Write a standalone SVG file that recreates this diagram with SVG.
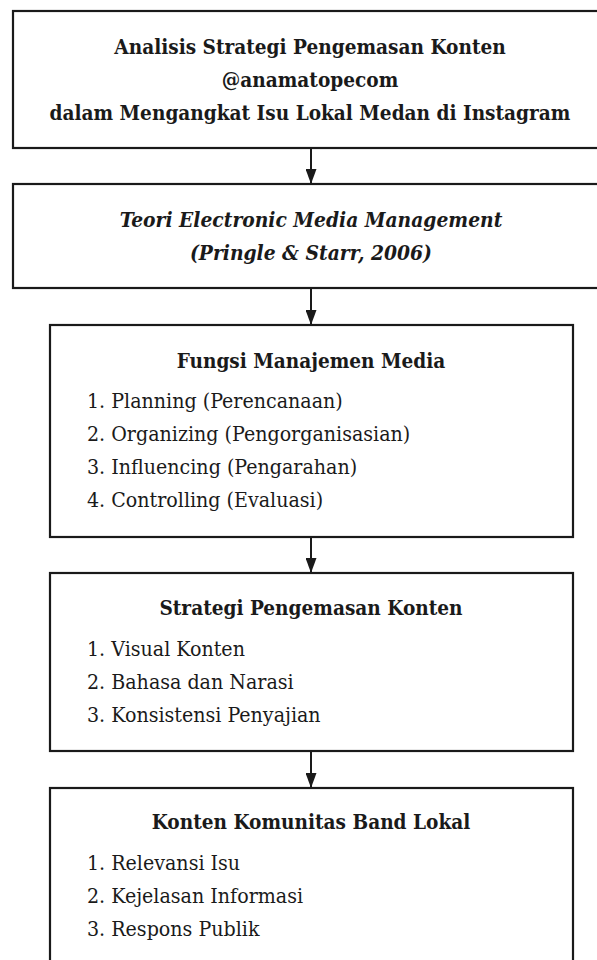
<svg xmlns="http://www.w3.org/2000/svg" width="597" height="960" viewBox="0 0 597 960">
<defs>
<style>
.box{fill:#fff;stroke:#1a1a1a;stroke-width:2.2}
text{font-family:"DejaVu Serif","Liberation Serif",serif;font-stretch:condensed;fill:#1a1a1a;font-size:21.2px}
.t{font-weight:bold;text-anchor:middle;font-size:20.6px}
.i{font-style:italic;font-weight:bold;text-anchor:middle;font-size:20.8px}
.li{font-weight:normal}
.conn{stroke:#1a1a1a;stroke-width:2;fill:none}
</style>
<marker id="ah" viewBox="0 0 15 11" refX="15" refY="5.5" markerWidth="15" markerHeight="11" markerUnits="userSpaceOnUse" orient="auto">
<path d="M0,0 L15,5.5 L0,11 Z" fill="#1a1a1a"/>
</marker>
</defs>
<rect width="597" height="960" fill="#fff"/>
<g id="connectors">
<line class="conn" x1="311" y1="148" x2="311" y2="184" marker-end="url(#ah)"/>
<line class="conn" x1="311" y1="288" x2="311" y2="325" marker-end="url(#ah)"/>
<line class="conn" x1="311" y1="537" x2="311" y2="573" marker-end="url(#ah)"/>
<line class="conn" x1="311" y1="751" x2="311" y2="788" marker-end="url(#ah)"/>
</g>
<g id="node-judul">
<rect class="box" x="13" y="11" width="598" height="137"/>
<text class="t" x="310" y="54">Analisis Strategi Pengemasan Konten</text>
<text class="t" x="310" y="87">@anamatopecom</text>
<text class="t" x="310" y="120">dalam Mengangkat Isu Lokal Medan di Instagram</text>
</g>
<g id="node-teori">
<rect class="box" x="13" y="184" width="598" height="104"/>
<text class="i" x="311" y="227">Teori Electronic Media Management</text>
<text class="i" x="311" y="260">(Pringle &amp; Starr, 2006)</text>
</g>
<g id="node-fungsi">
<rect class="box" x="50" y="325" width="523" height="212"/>
<text class="t" x="311" y="368">Fungsi Manajemen Media</text>
<text class="li" x="87" y="408">1. Planning (Perencanaan)</text>
<text class="li" x="87" y="441">2. Organizing (Pengorganisasian)</text>
<text class="li" x="87" y="474">3. Influencing (Pengarahan)</text>
<text class="li" x="87" y="507">4. Controlling (Evaluasi)</text>
</g>
<g id="node-strategi">
<rect class="box" x="50" y="573" width="523" height="178"/>
<text class="t" x="311" y="615">Strategi Pengemasan Konten</text>
<text class="li" x="87" y="656">1. Visual Konten</text>
<text class="li" x="87" y="689">2. Bahasa dan Narasi</text>
<text class="li" x="87" y="722">3. Konsistensi Penyajian</text>
</g>
<g id="node-konten">
<rect class="box" x="50" y="788" width="523" height="190"/>
<text class="t" x="311" y="829">Konten Komunitas Band Lokal</text>
<text class="li" x="87" y="870">1. Relevansi Isu</text>
<text class="li" x="87" y="903">2. Kejelasan Informasi</text>
<text class="li" x="87" y="936">3. Respons Publik</text>
</g>
</svg>
